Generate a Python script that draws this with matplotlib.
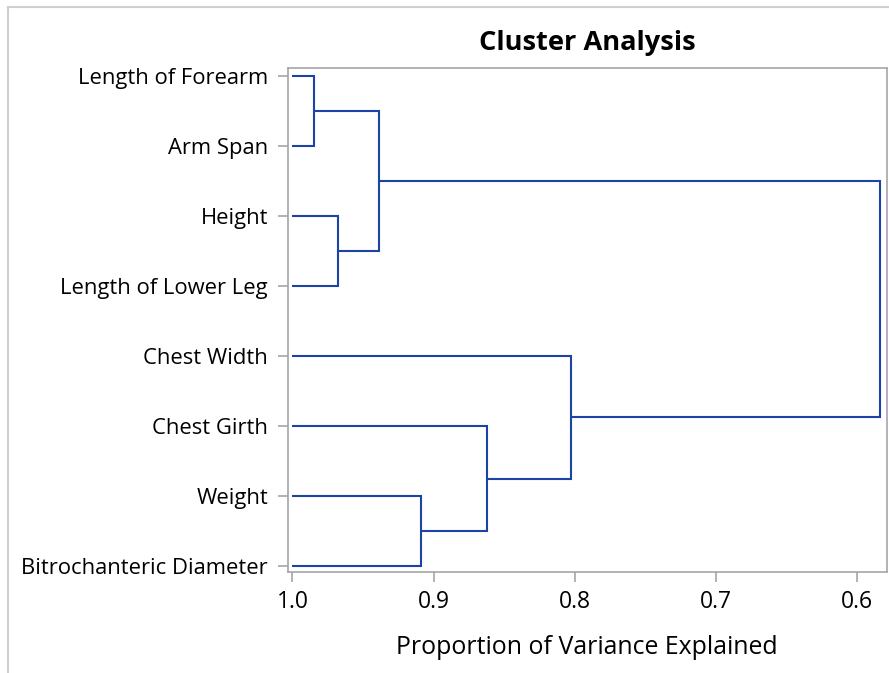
import matplotlib
matplotlib.use("Agg")
import matplotlib.pyplot as plt
from matplotlib.patches import Rectangle

# leaves, top to bottom
leaves = ["Length of Forearm", "Arm Span", "Height", "Length of Lower Leg",
          "Chest Width", "Chest Girth", "Weight", "Bitrochanteric Diameter"]

# merges: node ids 0-7 are leaves, each merge creates node 8, 9, ...
merge_a = [0, 2, 8, 6, 5, 4, 10]
merge_b = [1, 3, 9, 7, 11, 12, 13]
merge_h = [0.985, 0.9675, 0.939, 0.909, 0.862, 0.803, 0.584]

xticks = [1.0, 0.9, 0.8, 0.7, 0.6]

line_col = "#1c44a6"
frame_col = "#a3a6a9"

plt.rcParams["font.family"] = ["Open Sans", "DejaVu Sans"]

fig = plt.figure(figsize=(8.89, 6.73), dpi=100)
ax = fig.add_axes([0.3234, 0.1505, 0.6744, 0.748])

# outer gray border of the graph area
fig.patches.append(Rectangle((7.5 / 889, -0.1), 1.2, 1.1 - 7.5 / 673, transform=fig.transFigure,
                             fill=False, edgecolor="#cfcfcf", lw=1.5))

node_x = [1.0] * len(leaves)
node_y = list(range(len(leaves)))
for a, b, h in zip(merge_a, merge_b, merge_h):
    ax.plot([node_x[a], h, h, node_x[b]], [node_y[a], node_y[a], node_y[b], node_y[b]],
            color=line_col, lw=1.5, solid_joinstyle="miter", solid_capstyle="butt")
    node_x.append(h)
    node_y.append((node_y[a] + node_y[b]) / 2)

ax.set_xlim(1.0035, 0.579)
ax.set_ylim(len(leaves) - 1 + 0.081, -0.11)
ax.set_yticks(range(len(leaves)))
ax.set_yticklabels(leaves, fontsize=15.8)
ax.set_xticks(xticks)
ax.set_xticklabels(["%.1f" % t for t in xticks], fontsize=16.5)
ax.tick_params(color=frame_col, length=7, width=1.2)
ax.tick_params(axis="y", pad=7)
ax.tick_params(axis="x", pad=6)
for s in ax.spines.values():
    s.set_color(frame_col)
    s.set_linewidth(1.2)

ax.set_title("Cluster Analysis", fontsize=19.6, fontweight="bold", pad=13)
ax.set_xlabel("Proportion of Variance Explained", fontsize=17.9, labelpad=15)

fig.savefig("out.png", dpi=100)
